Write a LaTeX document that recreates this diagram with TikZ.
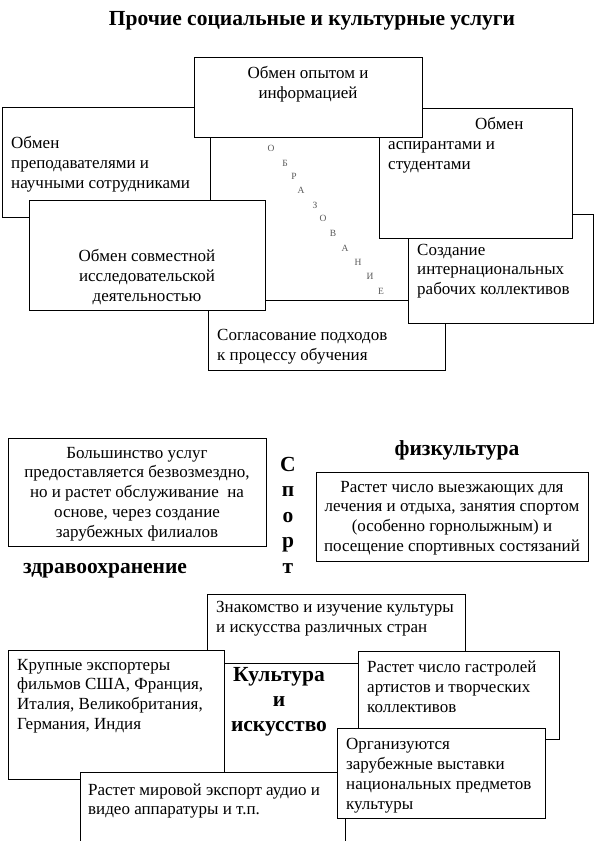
\documentclass[tikz,border=0pt]{standalone}
\usepackage{fontspec}
\setmainfont{Liberation Serif}
\usepackage{tikz}
\usetikzlibrary{positioning}
\definecolor{lettgray}{gray}{0.35}
\tikzset{
  box/.style   = {draw=black, fill=white, line width=1pt},
  txt/.style   = {font=\fontsize{17}{19.8}\selectfont, inner sep=0pt, align=left},
  ctxt/.style  = {txt, align=center},
  head/.style  = {font=\fontsize{21.5}{25}\selectfont\bfseries, inner sep=0pt, align=center},
  lett/.style  = {font=\fontsize{9.5}{10}\selectfont, text=lettgray, inner sep=0pt},
}
\newcommand{\tbox}[4]{\filldraw[box] (#1,#2) rectangle (#3,#4);}

\begin{document}
\begin{tikzpicture}[x=1pt, y=-1pt, line join=miter]
  \useasboundingbox (0,0) rectangle (594,841);
  \node[head] (title) at (312,21) {Прочие социальные и культурные услуги};
  % --- education block
  \tbox{210}{120}{410}{300}
  \foreach \lx/\ly/\ch [count=\i] in {271/148/О, 285/163/Б, 294/176/Р, 301/190/А, 315/205/З,
      323/218/О, 333/233/В, 345/248/А, 358/262/Н, 370/276/И, 381/291/Е}{
    \node[lett] (obr\i) at (\lx,\ly) {\ch};}
  \tbox{208}{300}{445}{370}
  \node[txt, anchor=west] (soglas) at (217,347) {Согласование подходов\\к процессу обучения};
  \tbox{2}{107}{210}{217}
  \node[txt, anchor=west] (prepod) at (11,164) {Обмен\\преподавателями и\\научными сотрудниками};
  \tbox{29}{200}{265}{310}
  \node[ctxt] (sovm) at (147,277) {Обмен совместной\\исследовательской\\деятельностью};
  \tbox{408}{214}{593}{323}
  \node[txt, anchor=west] (kollekt) at (417,271) {Создание\\интернациональных\\рабочих коллективов};
  \tbox{379}{108}{572}{238}
  \node[txt, anchor=west] (aspir) at (388,145) {\hspace*{87pt}Обмен\\аспирантами и\\студентами};
  \tbox{194}{57}{422}{137}
  \node[ctxt] (opyt) at (308,84) {Обмен опытом и\\информацией};
  % --- health and sport
  \tbox{8}{438}{266}{546}
  \node[ctxt] (uslugi) at (137,494) {Большинство услуг\\предоставляется безвозмездно,\\но и растет обслуживание\ \ на\\основе, через создание\\зарубежных филиалов};
  \node[head] (zdrav) at (105,571) {здравоохранение};
  \node[head, font=\fontsize{21.5}{25.5}\selectfont\bfseries] (sport) at (288,515) {С\\п\\о\\р\\т};
  \node[head] (fizk) at (457,450) {физкультура};
  \tbox{316}{472}{588}{561}
  \node[ctxt] (vyezd) at (452,518) {Растет число выезжающих для\\лечения и отдыха, занятия спортом\\(особенно горнолыжным) и\\посещение спортивных состязаний};
  % --- culture and art
  \tbox{207}{594}{465}{663}
  \node[txt, anchor=west] (znak) at (216,619) {Знакомство и изучение культуры\\и искусства различных стран};
  \node[head] (kult) at (279,702) {Культура\\и\\искусство};
  \tbox{8}{650}{224}{779}
  \node[txt, anchor=west] (film) at (17,696) {Крупные экспортеры\\фильмов США, Франция,\\Италия, Великобритания,\\Германия, Индия};
  \tbox{358}{651}{559}{739}
  \node[txt, anchor=west] (gastr) at (367,687) {Растет число гастролей\\артистов и творческих\\коллективов};
  \tbox{80}{772}{345}{846}
  \node[txt, anchor=west] (audio) at (88,801) {Растет мировой экспорт аудио и\\видео аппаратуры и т.п.};
  \tbox{337}{728}{545}{818}
  \node[txt, anchor=west] (vyst) at (346,775.5) {Организуются\\зарубежные выставки\\национальных предметов\\культуры};
\end{tikzpicture}
\end{document}
